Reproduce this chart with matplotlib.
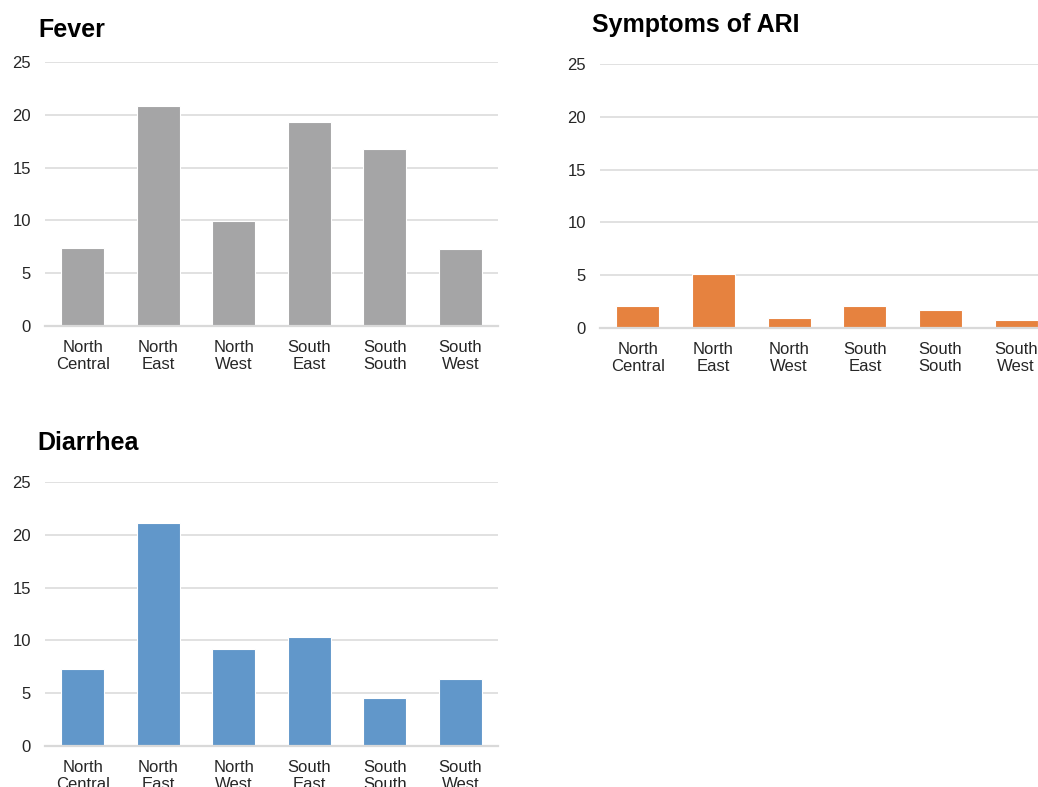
import matplotlib
matplotlib.use("Agg")
import matplotlib.pyplot as plt
import numpy as np

plt.rcParams["font.family"] = ["Liberation Sans", "DejaVu Sans"]

regions = ["North\nCentral", "North\nEast", "North\nWest",
           "South\nEast", "South\nSouth", "South\nWest"]
fever = [7.4, 20.8, 9.9, 19.3, 16.8, 7.3]
ari = [2.1, 5.1, 0.9, 2.1, 1.7, 0.8]
diarrhea = [7.3, 21.1, 9.2, 10.3, 4.5, 6.3]

GRID = "#d9d9d9"
TEXT = "#262626"

W, H = 1038, 787
fig = plt.figure(figsize=(W / 100, H / 100), dpi=100, facecolor="white")


def px_axes(left, top, width, height):
    return fig.add_axes([left / W, 1 - (top + height) / H, width / W, height / H])


def panel(ax, vals, color, title, tx, ty):
    x = np.arange(len(vals))
    ax.bar(x, vals, width=0.57, color=color, edgecolor="white", linewidth=0.8, zorder=2)
    ax.set_xlim(-0.5, len(vals) - 0.5)
    ax.set_ylim(0, 25)
    ax.set_yticks([0, 5, 10, 15, 20, 25])
    ax.set_xticks(x)
    ax.set_xticklabels(regions, fontsize=12, color=TEXT, linespacing=1.2)
    ax.tick_params(axis="y", length=0, pad=10, labelsize=12, labelcolor=TEXT)
    ax.tick_params(axis="x", length=0, pad=10)
    ax.grid(True, axis="y", color=GRID, lw=1.1, zorder=0)
    for s in ["top", "right", "left"]:
        ax.spines[s].set_visible(False)
    ax.spines["bottom"].set_color(GRID)
    ax.spines["bottom"].set_linewidth(1.6)
    fig.text(tx / W, 1 - ty / H, title, fontsize=18, fontweight="bold",
             color="black", ha="left", va="baseline")


panel(px_axes(45, 62, 453, 264), fever, "#a5a5a6", "Fever", 38, 37)
panel(px_axes(600, 64, 454, 264), ari, "#e6823f", "Symptoms of ARI", 592, 32)
panel(px_axes(45, 482, 453, 264), diarrhea, "#6197ca", "Diarrhea", 37, 450)

fig.savefig("out.png", dpi=100, facecolor="white")
